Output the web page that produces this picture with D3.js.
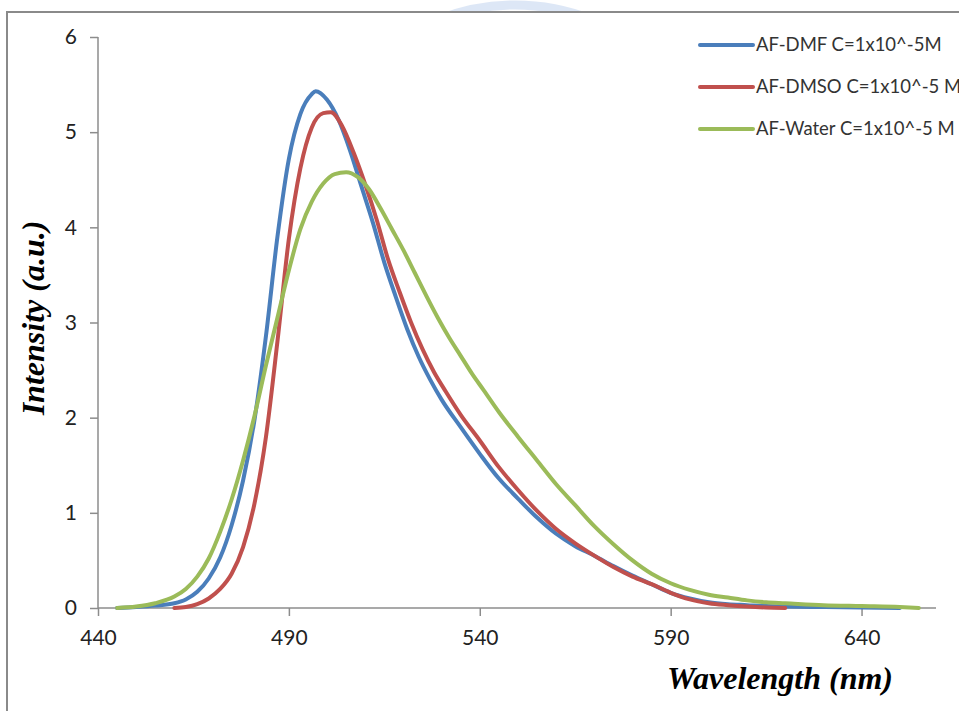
<!DOCTYPE html>
<html><head><meta charset="utf-8">
<script src="https://cdn.jsdelivr.net/npm/d3@7"></script>
<style>html,body{margin:0;padding:0;background:#fff;overflow:hidden}svg{display:block}</style>
</head><body>
<svg id="c" width="959" height="711"></svg>
<script>
// ---- data ----
const seriesNames = ["AF-DMF C=1x10^-5M", "AF-DMSO C=1x10^-5 M", "AF-Water C=1x10^-5 M"];
const dmfX = [445,450,455,460,463,466,469,472,475,478,481,484,487,490,493,496,497,500,503,506,509,512,515,518,521,524,527,530,535,540,545,550,555,560,565,570,575,580,585,590,595,600,605,610,615,620,630,640,650];
const dmfY = [0,0.01,0.025,0.05,0.09,0.17,0.31,0.53,0.87,1.34,1.98,2.86,3.90,4.72,5.19,5.40,5.43,5.34,5.13,4.81,4.43,4.05,3.63,3.27,2.93,2.64,2.40,2.19,1.90,1.62,1.36,1.15,0.95,0.78,0.65,0.55,0.44,0.34,0.25,0.16,0.10,0.06,0.04,0.03,0.02,0.015,0.01,0.005,0];
const dmsoX = [460,463,466,469,472,475,478,481,484,487,490,493,496,499,501,504,507,510,513,516,519,522,525,528,531,535,540,545,550,555,560,565,570,575,580,585,590,595,600,605,610,615,620];
const dmsoY = [0,0.01,0.04,0.10,0.20,0.36,0.64,1.10,1.80,2.80,3.88,4.62,5.05,5.20,5.21,5.06,4.78,4.45,4.08,3.66,3.32,3.00,2.72,2.48,2.28,2.03,1.76,1.48,1.24,1.02,0.83,0.68,0.55,0.43,0.33,0.25,0.16,0.09,0.05,0.03,0.015,0.005,0];
const waterX = [445,450,455,460,463,466,469,472,475,478,481,484,487,490,493,496,499,502,505,508,511,514,517,520,523,526,529,532,535,538,541,545,550,555,560,565,570,575,580,585,590,595,600,605,610,615,620,630,640,650,655];
const waterY = [0,0.015,0.05,0.12,0.20,0.33,0.52,0.80,1.14,1.55,2.02,2.55,3.05,3.55,3.98,4.27,4.46,4.56,4.58,4.53,4.40,4.20,3.98,3.76,3.52,3.28,3.05,2.84,2.65,2.46,2.29,2.06,1.80,1.55,1.30,1.08,0.86,0.67,0.50,0.36,0.26,0.19,0.14,0.11,0.08,0.06,0.05,0.03,0.02,0.01,0];
const xTicks = [440,490,540,590,640];
const yTicks = [0,1,2,3,4,5,6];
const colors = ["#4a7ebb", "#c0504d", "#9bbb59"];

const svg = d3.select("#c");

// faint watermark arcs above the frame
const wm = svg.append("g").attr("opacity", 0.35);
wm.append("circle").attr("cx", 515).attr("cy", 215).attr("r", 210)
  .attr("fill", "none").attr("stroke", "#9fbbe6").attr("stroke-width", 9);
wm.append("circle").attr("cx", 515).attr("cy", 215).attr("r", 182)
  .attr("fill", "none").attr("stroke", "#b9cdee").attr("stroke-width", 4);
// chart area (white) covering below the frame
svg.append("rect").attr("x", 7).attr("y", 12).attr("width", 952).attr("height", 699).attr("fill", "#fff");
// frame
svg.append("line").attr("x1", 7).attr("y1", 11).attr("x2", 7).attr("y2", 711).attr("stroke", "#8a8a8a").attr("stroke-width", 2);
svg.append("line").attr("x1", 6).attr("y1", 12).attr("x2", 959).attr("y2", 12).attr("stroke", "#8a8a8a").attr("stroke-width", 2);

const x = d3.scaleLinear().domain([440, 659.5]).range([98, 936]);
const y = d3.scaleLinear().domain([0, 6]).range([608, 37]);

const axisColor = "#8c8c8c";
const tickFont = "Lato, 'Noto Sans', sans-serif";

// y axis
const ya = svg.append("g").attr("transform", "translate(98,0)")
  .call(d3.axisLeft(y).tickValues(yTicks).tickSize(8).tickPadding(13).tickFormat(d3.format("d")));
ya.select(".domain").attr("stroke", axisColor).attr("stroke-width", 1.5).attr("d", `M0,${y(6)}V${y(0)}`);
ya.selectAll(".tick line").attr("stroke", axisColor).attr("stroke-width", 1.5);
ya.selectAll(".tick text").attr("font-family", tickFont).attr("font-size", 21).attr("fill", "#222");

// x axis
const xa = svg.append("g").attr("transform", "translate(0,608)")
  .call(d3.axisBottom(x).tickValues(xTicks).tickSize(8).tickPadding(14).tickFormat(d3.format("d")));
xa.select(".domain").attr("stroke", axisColor).attr("stroke-width", 1.5).attr("d", `M${x(440)},0H${x(659.5)}`);
xa.selectAll(".tick line").attr("stroke", axisColor).attr("stroke-width", 1.5);
xa.selectAll(".tick text").attr("font-family", tickFont).attr("font-size", 21).attr("fill", "#222");

// lines
const seriesData = [
  d3.zip(dmfX, dmfY),
  d3.zip(dmsoX, dmsoY),
  d3.zip(waterX, waterY)
];
const line = d3.line().x(d => x(d[0])).y(d => y(d[1])).curve(d3.curveMonotoneX);
svg.append("g").selectAll("path").data(seriesData).join("path")
  .attr("d", line).attr("fill", "none")
  .attr("stroke", (d, i) => colors[i]).attr("stroke-width", 4)
  .attr("stroke-linecap", "round").attr("stroke-linejoin", "round");

// legend
const lg = svg.append("g");
const legY = [45, 87, 129];
seriesNames.forEach((n, i) => {
  lg.append("line").attr("x1", 700).attr("x2", 753).attr("y1", legY[i]).attr("y2", legY[i])
    .attr("stroke", colors[i]).attr("stroke-width", 4).attr("stroke-linecap", "round");
  lg.append("text").attr("x", 756).attr("y", legY[i] + 6).text(n)
    .attr("font-family", tickFont).attr("font-size", 18.5).attr("fill", "#333");
});

// axis titles
svg.append("text").attr("x", 893).attr("y", 689).attr("text-anchor", "end")
  .attr("font-family", "'Liberation Serif', 'DejaVu Serif', serif").attr("font-weight", "bold").attr("font-style", "italic")
  .attr("font-size", 32).attr("fill", "#000").text("Wavelength (nm)");
svg.append("text").attr("transform", "translate(44,318) rotate(-90)").attr("text-anchor", "middle")
  .attr("font-family", "'Liberation Serif', 'DejaVu Serif', serif").attr("font-weight", "bold").attr("font-style", "italic")
  .attr("font-size", 32).attr("fill", "#000").text("Intensity (a.u.)");
</script>
</body></html>
